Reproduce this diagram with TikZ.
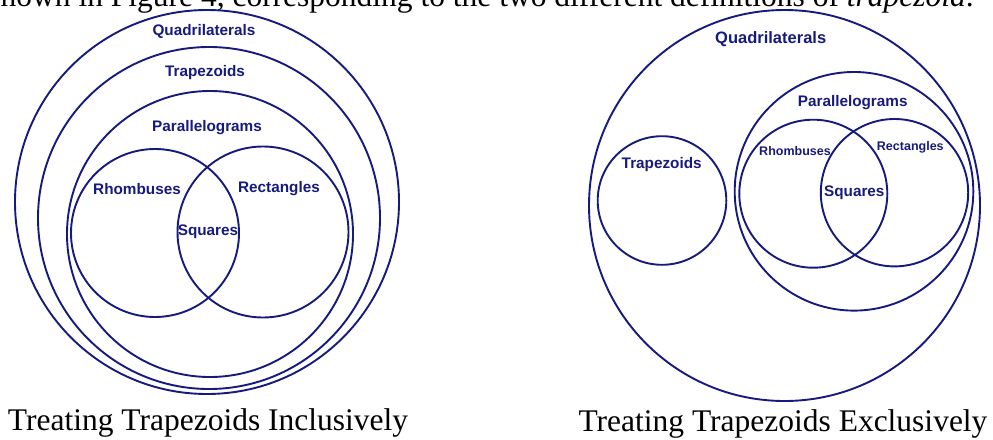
\documentclass[tikz,border=0pt]{standalone}
\usepackage{fontspec}
\setmainfont{Liberation Serif}
\setsansfont{Liberation Sans}
\usetikzlibrary{positioning}
\definecolor{navy}{RGB}{22,26,124}
\tikzset{
  venn/.style={circle,draw=navy,line width=1.9pt,minimum size=#1,inner sep=0pt},
  lbl/.style={text=navy,font=\sffamily\bfseries\fontsize{#1}{#1}\selectfont,
    inner sep=0pt,text depth=0pt},
  lbl/.default=15.3pt,
  captxt/.style={font=\fontsize{31.5}{32}\selectfont,inner sep=0pt,anchor=base},
}
\begin{document}
\begin{tikzpicture}[x=1pt,y=-1pt]
  \useasboundingbox (0,0) rectangle (993,439);
  \clip (0,0) rectangle (993,439);
  % cut-off line of the running text above the figure
  \node[captxt,anchor=base east] (runin) at (974,6)
    {shown in Figure 4, corresponding to the two different definitions of \emph{trapezoid}.};
  % inclusive view
  \node[venn=384pt] (quadL) at (207,202) {};
  \node[venn=342pt] (trapL) at (209,218) {};
  \node[venn=286pt] (paraL) at (210,234) {};
  \node[venn=168pt] (rhomL) at (155,233) {};
  \node[venn=171pt] (rectL) at (263,232) {};
  \node[lbl] (quadLtxt) at (204,30) {Quadrilaterals};
  \node[lbl] (trapLtxt) at (205,71) {Trapezoids};
  \node[lbl] (paraLtxt) at (207,126) {Parallelograms};
  \node[lbl] (rhomLtxt) at (137,189) {Rhombuses};
  \node[lbl] (rectLtxt) at (279,187) {Rectangles};
  \node[lbl] (sqLtxt) at (208,230) {Squares};
  \node[captxt] (capL) at (208,430) {Treating Trapezoids Inclusively};
  % exclusive view
  \node[venn=391pt] (quadR) at (784.5,205.5) {};
  \node[venn=128.6pt] (trapR) at (662,200.5) {};
  \node[venn=238.6pt] (paraR) at (854,191.3) {};
  \node[venn=148pt] (rhomR) at (813.3,193.7) {};
  \node[venn=147.4pt] (rectR) at (894.5,192.7) {};
  \node[lbl=16.5pt] (quadRtxt) at (770.7,37.3) {Quadrilaterals};
  \node[lbl] (trapRtxt) at (661.7,163.3) {Trapezoids};
  \node[lbl] (paraRtxt) at (852.7,101) {Parallelograms};
  \node[lbl=12.5pt] (rhomRtxt) at (795,150.7) {Rhombuses};
  \node[lbl=12.5pt] (rectRtxt) at (910.3,145.7) {Rectangles};
  \node[lbl] (sqRtxt) at (854.3,190.7) {Squares};
  \node[captxt] (capR) at (783,431) {Treating Trapezoids Exclusively};
\end{tikzpicture}
\end{document}
